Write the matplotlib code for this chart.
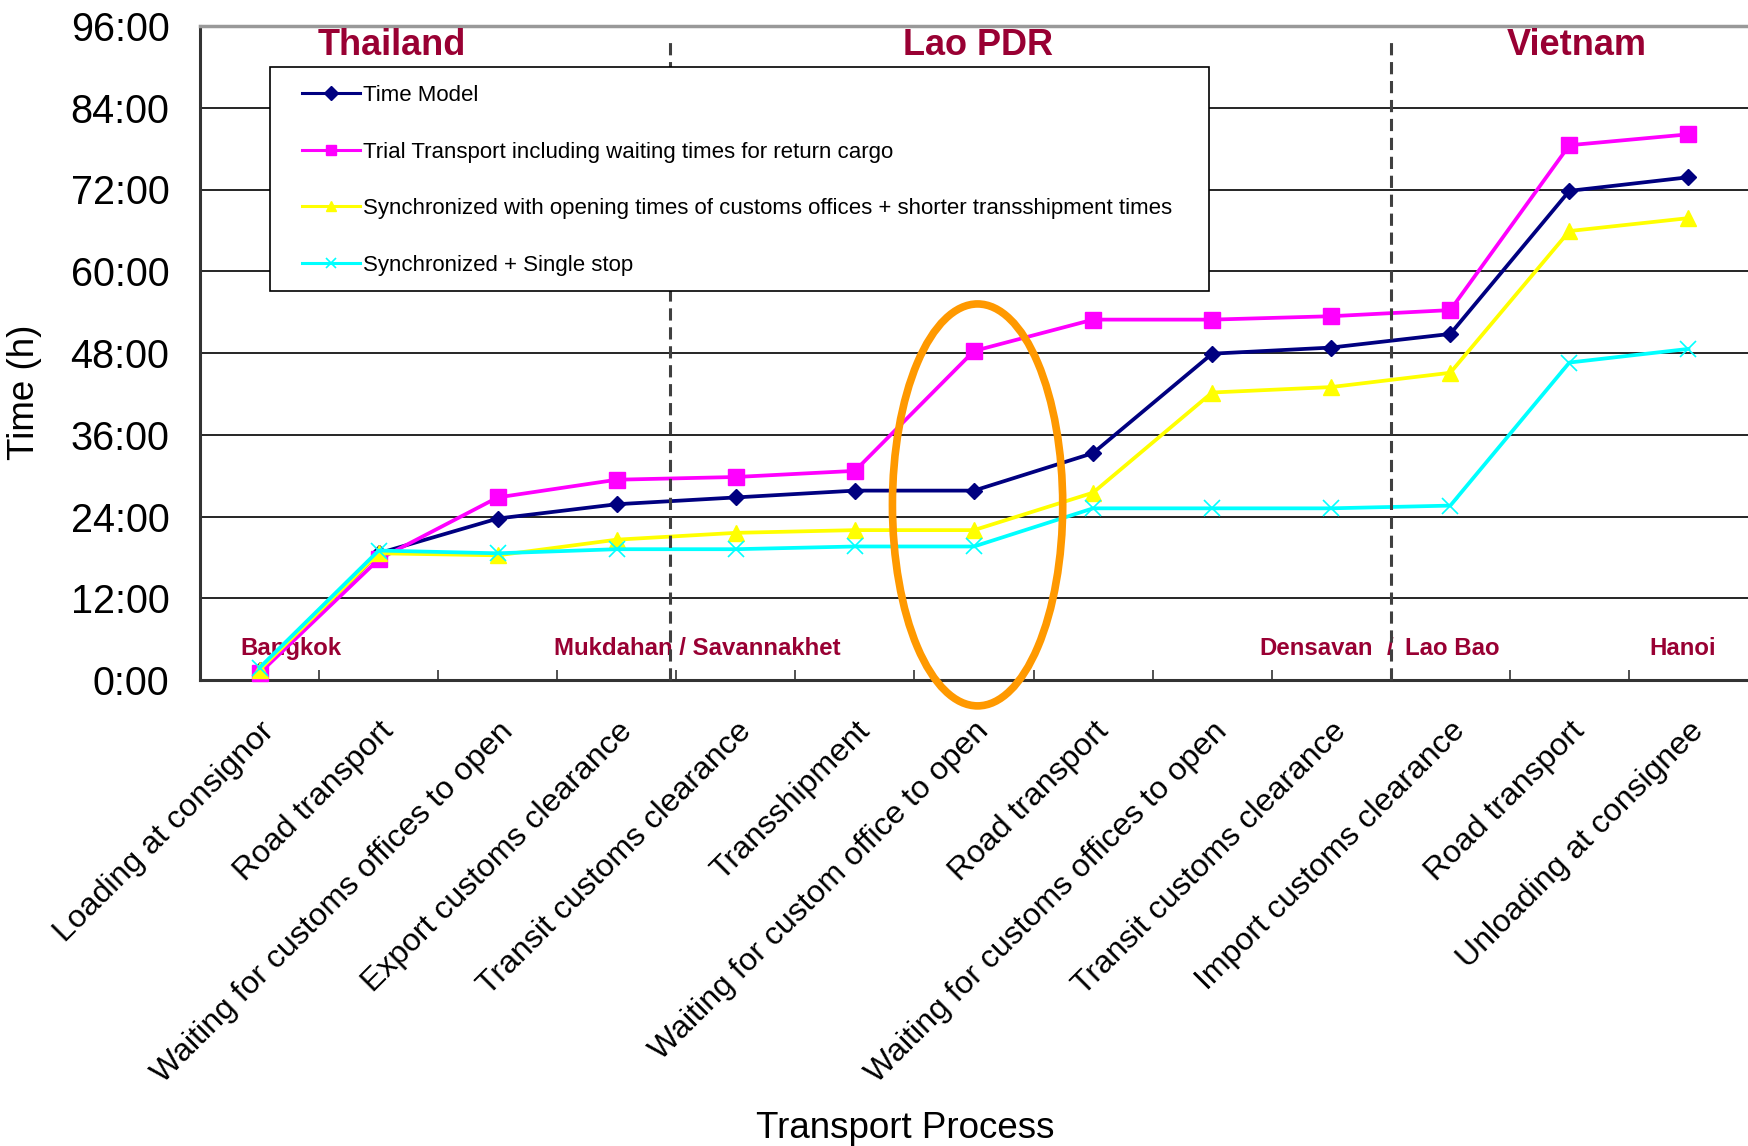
"""Transport time along the Bangkok - Hanoi corridor (time model vs. trial runs)."""

import matplotlib
matplotlib.use("Agg")
import matplotlib.pyplot as plt
import matplotlib.ticker as ticker
from matplotlib.patches import Ellipse, Rectangle

# ---------------------------------------------------------------------------
# Data (hours)
# ---------------------------------------------------------------------------

STEPS = [
    "Loading at consignor",
    "Road transport",
    "Waiting for customs offices to open",
    "Export customs clearance",
    "Transit customs clearance",
    "Transshipment",
    "Waiting for custom office to open",
    "Road transport",
    "Waiting for customs offices to open",
    "Transit customs clearance",
    "Import customs clearance",
    "Road transport",
    "Unloading at consignee",
]

TIME_MODEL = [1.5, 18.6, 23.7, 25.8, 26.8, 27.8, 27.8, 33.3, 47.9, 48.8, 50.8, 71.8, 73.8]
TRIAL = [1.0, 17.7, 26.8, 29.4, 29.8, 30.7, 48.3, 52.9, 52.9, 53.4, 54.3, 78.5, 80.1]
SYNCED = [1.5, 18.6, 18.3, 20.6, 21.6, 22.0, 22.0, 27.5, 42.2, 43.0, 45.1, 65.9, 67.8]
SINGLE_STOP = [1.8, 19.0, 18.6, 19.2, 19.2, 19.6, 19.6, 25.2, 25.2, 25.2, 25.6, 46.6, 48.6]

SERIES_LABELS = [
    "Time Model",
    "Trial Transport including waiting times for return cargo",
    "Synchronized with opening times of customs offices + shorter transshipment times",
    "Synchronized + Single stop",
]

COUNTRIES = ["Thailand", "Lao PDR", "Vietnam"]
COUNTRY_X = [1.11, 6.03, 11.06]
BORDERS = [3.45, 9.5]

CITIES = ["Bangkok", "Mukdahan / Savannakhet", "Densavan", "/", "Lao Bao", "Hanoi"]
CITY_X = [0.26, 3.68, 8.87, 9.49, 10.02, 11.95]

DARK_RED = "#990033"
W, H = 1748, 1146

# ---------------------------------------------------------------------------
# Plot
# ---------------------------------------------------------------------------


def plot(save_path="out.png"):
    plt.rcParams["font.family"] = ["Liberation Sans", "DejaVu Sans"]

    fig = plt.figure(figsize=(W / 100, H / 100), dpi=100)
    ax = fig.add_axes([200 / W, 1 - 680 / H, 1 - 200 / W, (680 - 26) / H])

    x = list(range(len(STEPS)))
    styles = [
        ("#000080", "D", 8.5, {}),
        ("#FF00FF", "s", 11.5, {}),
        ("#FFFF00", "^", 11.5, {}),
        ("#00FFFF", "x", 11, {"markeredgewidth": 1.2}),
    ]
    for vals, label, (color, marker, ms, extra) in zip(
            [TIME_MODEL, TRIAL, SYNCED, SINGLE_STOP], SERIES_LABELS, styles):
        ax.plot(x, vals, color=color, lw=2.7, marker=marker, markersize=ms,
                label=label, zorder=3, clip_on=False, **extra)

    # Borders between countries
    for bx in BORDERS:
        ax.plot([bx, bx], [0, 94.5], color="#404040", lw=2.2,
                dashes=(4, 2.2), zorder=4, clip_on=False)

    # Axes
    ax.set_xlim(-0.5, 12.5)
    ax.set_ylim(0, 96)
    ax.yaxis.set_major_locator(ticker.MultipleLocator(12))
    ax.yaxis.set_major_formatter(ticker.FuncFormatter(lambda v, _: f"{int(v)}:00"))
    ax.grid(axis="y", color="black", lw=1.2, zorder=1)
    ax.tick_params(axis="y", length=0, pad=22, labelsize=28.5)

    ax.set_xticks(x)
    ax.set_xticklabels(STEPS, rotation=45, ha="right", rotation_mode="anchor",
                       fontsize=23)
    ax.tick_params(axis="x", which="major", length=0, pad=26)
    ax.set_xticks([i + 0.5 for i in range(12)], minor=True)
    ax.tick_params(axis="x", which="minor", direction="in", length=7,
                   width=1.2, color="#333333")

    for side in ("left", "bottom"):
        ax.spines[side].set_linewidth(2.2)
        ax.spines[side].set_color("#333333")
    ax.spines["top"].set_color("#999999")
    ax.spines["top"].set_linewidth(2.5)
    ax.spines["right"].set_visible(False)

    fig.text(24.5 / W, 1 - 392 / H, "Time (h)", fontsize=26.5, rotation=90,
             ha="center", va="center")
    fig.text(905 / W, 1 - 1128 / H, "Transport Process", fontsize=26.5,
             ha="center", va="center")

    # Country and city labels
    for name, cx in zip(COUNTRIES, COUNTRY_X):
        ax.text(cx, 93.2, name, color=DARK_RED, fontsize=26, fontweight="bold",
                ha="center", va="center", zorder=5)
    for name, cx in zip(CITIES, CITY_X):
        ax.text(cx, 4.6, name, color=DARK_RED, fontsize=17.3, fontweight="bold",
                ha="center", va="center", zorder=2)

    # Highlight of the waiting step in Lao PDR
    ax.add_patch(Ellipse((6.03, 25.7), 1.43, 59.0, fill=False,
                         edgecolor="#FF9900", lw=5.5, zorder=6, clip_on=False))

    # Legend box drawn separately so that its size matches the original slide
    box = Rectangle((270 / W, 1 - 291 / H), (1209 - 270) / W, (291 - 67) / H,
                    transform=fig.transFigure, facecolor="white",
                    edgecolor="black", lw=1.2, zorder=6.5, clip_on=False)
    ax.add_artist(box)
    leg = ax.legend(loc="upper left", bbox_to_anchor=(302 / W, 1 - 85 / H),
                    bbox_transform=fig.transFigure, fontsize=16, frameon=False,
                    handlelength=2.6, handletextpad=0.15, labelspacing=1.6,
                    borderpad=0, borderaxespad=0)
    leg.set_zorder(7)
    for h in leg.legend_handles:
        h.set_linewidth(2.2)
        h.set_markersize(7)

    fig.savefig(save_path, dpi=100, facecolor="white")
    plt.close(fig)


if __name__ == "__main__":
    plot()
